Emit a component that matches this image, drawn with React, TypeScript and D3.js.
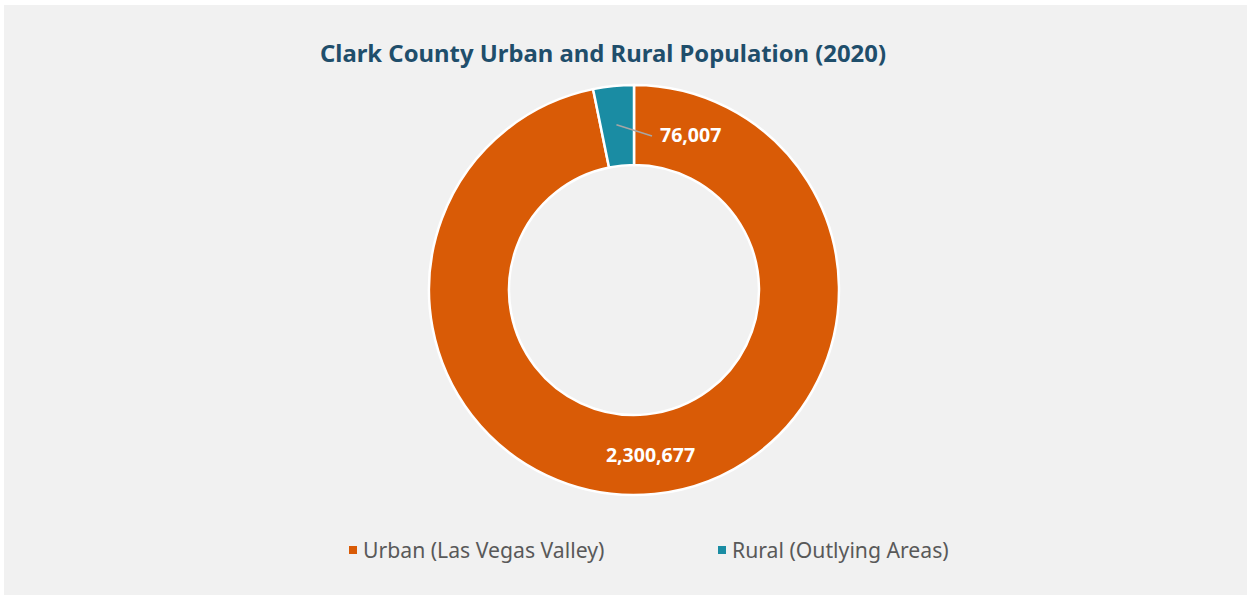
import React from "react";
import * as d3 from "d3";

const categories = ["Urban (Las Vegas Valley)", "Rural (Outlying Areas)"];
const values = [2300677, 76007];
const colors = ["#d95b06", "#1a8ca3"];
const title = "Clark County Urban and Rural Population (2020)";

const W = 1249;
const H = 598;
const cx = 634;
const cy = 290;
const outerR = 205;
const innerR = 125;

export default function App() {
  const pie = d3.pie<number>().sort(null).value((d) => d)(values);
  const arc = d3.arc<d3.PieArcDatum<number>>().innerRadius(innerR).outerRadius(outerR);
  const fmt = d3.format(",");
  const font = "'Source Sans Pro', 'Noto Sans', 'Open Sans', sans-serif";

  const urban = pie[0];
  const rural = pie[1];
  const rMid = (rural.startAngle + rural.endAngle) / 2;
  const rLine = (innerR + outerR) / 2;
  const rx = cx + Math.sin(rMid) * rLine;
  const ry = cy - Math.cos(rMid) * rLine;

  return (
    <svg
      width={W}
      height={H}
      style={{ position: "absolute", left: 0, top: 0, display: "block" }}
    >
      <rect x={0} y={0} width={W} height={H} fill="#ffffff" />
      <rect x={4} y={5} width={W - 6} height={H - 8} fill="#f1f1f1" />
      <text
        x={603}
        y={62}
        textAnchor="middle"
        fontFamily={font}
        fontWeight={700}
        fontSize={24}
        textLength={566}
        lengthAdjust="spacingAndGlyphs"
        fill="#1f4e6b"
      >
        {title}
      </text>
      <g transform={`translate(${cx},${cy})`}>
        {pie.map((p, i) => (
          <path key={i} d={arc(p) || ""} fill={colors[i]} stroke="#ffffff" strokeWidth={2.5} />
        ))}
      </g>
      <line
        x1={rx - 1}
        y1={ry - 1}
        x2={652}
        y2={136}
        stroke="#a6a6a6"
        strokeWidth={1.5}
      />
      <text
        x={660}
        y={142}
        fontFamily={font}
        fontWeight={700}
        fontSize={19.5}
        fill="#ffffff"
      >
        {fmt(rural.data)}
      </text>
      <text
        x={650.5}
        y={462}
        textAnchor="middle"
        fontFamily={font}
        fontWeight={700}
        fontSize={19.5}
        fill="#ffffff"
      >
        {fmt(urban.data)}
      </text>
      {categories.map((c, i) => {
        const lx = i === 0 ? 349 : 718;
        return (
          <g key={c}>
            <rect x={lx} y={546} width={8} height={8} fill={colors[i]} />
            <text
              x={lx + 14}
              y={558}
              fontFamily={font}
              fontSize={21.2}
              fill="#595959"
            >
              {c}
            </text>
          </g>
        );
      })}
    </svg>
  );
}
